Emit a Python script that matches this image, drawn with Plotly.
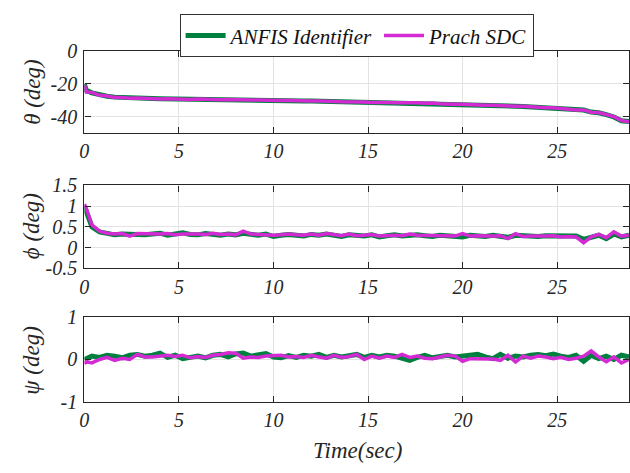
import plotly.graph_objects as go

# ---------------- data ----------------
t = [0, 0.1, 0.4, 0.8, 1.2, 1.6, 2.0, 2.4, 2.8, 3.2, 3.6, 4.0, 4.4, 4.8, 5.2, 5.6, 6.0, 6.4, 6.8, 7.2,
     7.6, 8.0, 8.4, 8.8, 9.2, 9.6, 10.0, 10.4, 10.8, 11.2, 11.6, 12.0, 12.4, 12.8, 13.2, 13.6, 14.0, 14.4,
     14.8, 15.2, 15.6, 16.0, 16.4, 16.8, 17.2, 17.6, 18.0, 18.4, 18.8, 19.2, 19.6, 20.0, 20.4, 20.8, 21.2,
     21.6, 22.0, 22.4, 22.8, 23.2, 23.6, 24.0, 24.4, 24.8, 25.2, 25.6, 26.0, 26.4, 26.8, 27.2, 27.6, 28.0,
     28.4, 28.8]

theta_anfis = [-20.0, -24.0, -25.5, -26.8, -27.6, -28.1, -28.4, -28.6, -28.8, -28.9, -29.0, -29.1, -29.2,
               -29.1, -29.3, -29.4, -29.4, -29.5, -29.5, -29.6, -29.6, -29.7, -29.8, -29.8, -29.9, -30.0,
               -30.1, -30.1, -30.2, -30.3, -30.4, -30.4, -30.5, -30.7, -30.8, -30.8, -30.9, -31.1, -31.2,
               -31.3, -31.3, -31.2, -31.5, -31.6, -31.6, -31.7, -31.8, -31.8, -32.0, -32.1, -32.3, -32.5,
               -32.6, -32.8, -33.0, -33.1, -33.3, -33.5, -33.6, -33.8, -34.0, -34.2, -34.5, -34.7, -35.0,
               -35.6, -35.8, -36.0, -37.2, -37.6, -38.8, -40.2, -42.5, -43.0]
theta_prach = [-20.5, -25.0, -25.2, -27.0, -27.4, -28.3, -28.3, -28.8, -28.7, -29.0, -28.8, -29.2, -29.1,
               -29.3, -29.2, -29.5, -29.3, -29.6, -29.4, -29.7, -29.5, -29.8, -29.7, -29.9, -29.8, -30.1,
               -30.0, -30.2, -30.1, -30.4, -30.3, -30.5, -30.4, -30.8, -30.7, -30.9, -30.8, -31.2, -31.1,
               -31.4, -31.2, -31.3, -31.6, -31.5, -31.7, -31.6, -31.9, -31.7, -32.1, -32.0, -32.4, -32.4,
               -32.7, -32.7, -33.1, -33.0, -33.4, -33.4, -33.7, -33.7, -34.1, -34.1, -34.6, -34.6, -35.1,
               -35.5, -35.9, -35.9, -37.3, -37.5, -38.9, -40.0, -42.4, -43.2]

phi_anfis = [1.00, 0.85, 0.50, 0.38, 0.33, 0.31, 0.33, 0.32, 0.34, 0.31, 0.33, 0.35, 0.30, 0.33, 0.36,
             0.32, 0.31, 0.34, 0.32, 0.30, 0.33, 0.31, 0.35, 0.32, 0.30, 0.33, 0.27, 0.30, 0.32, 0.30,
             0.28, 0.32, 0.30, 0.33, 0.30, 0.27, 0.31, 0.30, 0.28, 0.31, 0.26, 0.29, 0.31, 0.28, 0.30,
             0.31, 0.29, 0.27, 0.30, 0.28, 0.29, 0.26, 0.30, 0.29, 0.27, 0.30, 0.28, 0.25, 0.30, 0.29,
             0.28, 0.27, 0.29, 0.28, 0.27, 0.26, 0.28, 0.20, 0.24, 0.30, 0.22, 0.33, 0.26, 0.30]
phi_prach = [1.05, 0.95, 0.55, 0.40, 0.35, 0.33, 0.34, 0.28, 0.34, 0.33, 0.32, 0.33, 0.34, 0.31, 0.33,
             0.34, 0.33, 0.32, 0.35, 0.32, 0.33, 0.31, 0.40, 0.33, 0.32, 0.30, 0.30, 0.31, 0.33, 0.31,
             0.30, 0.33, 0.30, 0.34, 0.32, 0.29, 0.33, 0.29, 0.30, 0.32, 0.28, 0.30, 0.30, 0.29, 0.33,
             0.30, 0.30, 0.29, 0.28, 0.29, 0.28, 0.34, 0.28, 0.29, 0.28, 0.28, 0.29, 0.22, 0.34, 0.27,
             0.28, 0.27, 0.28, 0.29, 0.26, 0.27, 0.26, 0.12, 0.26, 0.32, 0.24, 0.38, 0.28, 0.30]

psi_anfis = [0.00, 0.02, 0.08, 0.05, 0.10, 0.08, 0.04, 0.10, 0.12, 0.08, 0.10, 0.15, 0.05, 0.10, 0.02,
             0.05, 0.08, 0.04, 0.10, 0.12, 0.06, 0.13, 0.15, 0.08, 0.10, 0.14, 0.06, 0.04, 0.09, 0.05,
             0.10, 0.08, 0.12, 0.05, 0.10, 0.06, 0.09, 0.12, 0.05, 0.10, 0.06, 0.10, 0.08, 0.03, -0.02,
             0.05, 0.10, 0.04, 0.08, 0.10, 0.06, 0.08, 0.10, 0.12, 0.06, 0.02, 0.12, 0.03, 0.08, 0.06,
             0.10, 0.12, 0.09, 0.13, 0.08, 0.05, 0.10, -0.04, 0.10, 0.02, 0.08, 0.00, 0.10, 0.06]
psi_prach = [-0.10, -0.05, -0.08, 0.00, 0.05, -0.02, 0.03, 0.00, 0.12, 0.06, 0.06, 0.08, 0.10, 0.07,
             0.10, 0.04, 0.07, 0.05, 0.10, 0.12, 0.16, 0.15, 0.03, 0.06, 0.05, 0.08, 0.08, 0.10, 0.06,
             0.07, 0.05, 0.10, 0.06, 0.03, 0.10, 0.05, 0.07, 0.12, 0.00, 0.08, 0.03, 0.08, 0.05, 0.12,
             0.05, 0.08, 0.03, 0.02, 0.06, 0.10, 0.08, -0.04, 0.02, 0.02, 0.03, 0.01, -0.02, 0.10, -0.06,
             0.08, 0.03, 0.08, 0.06, 0.02, 0.05, 0.00, 0.03, 0.08, 0.20, 0.06, -0.05, 0.06, -0.08, 0.00]

x_ticks = [0, 5, 10, 15, 20, 25]
theta_ticks = [0, -20, -40]
phi_ticks = [1.5, 1, 0.5, 0, -0.5]
psi_ticks = [1, 0, -1]

GREEN = "#00803e"
MAGENTA = "#d42ad4"
FONT = "Liberation Serif"

fig = go.Figure()

panels = [
    (theta_anfis, theta_prach, "y", True),
    (phi_anfis, phi_prach, "y2", False),
    (psi_anfis, psi_prach, "y3", False),
]
for i, (a, p, yref, show) in enumerate(panels):
    xref = "x" if i == 0 else f"x{i+1}"
    fig.add_trace(go.Scatter(x=t, y=a, mode="lines", name="ANFIS Identifier",
                             line=dict(color=GREEN, width=5), xaxis=xref, yaxis=yref,
                             showlegend=show))
    fig.add_trace(go.Scatter(x=t, y=p, mode="lines", name="Prach SDC",
                             line=dict(color=MAGENTA, width=3.5), xaxis=xref, yaxis=yref,
                             showlegend=show))

H = 473.0
def dom(top, bot):
    return [1 - bot / H, 1 - top / H]

tickfont = dict(family=FONT, size=20, style="italic", color="#262626")
xdom = [80 / 630, 629 / 630]

def xax(anchor):
    return dict(domain=xdom, range=[0, 28.8], anchor=anchor, tickvals=x_ticks,
                ticktext=[str(v) for v in x_ticks], tickfont=tickfont,
                showline=True, linecolor="#262626", linewidth=1.3, mirror="ticks",
                ticks="inside", ticklen=6, tickcolor="#262626",
                showgrid=True, gridcolor="#e3e3e3", gridwidth=1, zeroline=False)

def yax(dm, rng, tv, anchor):
    def lab(v):
        s = f"{v:g}"
        return s.replace("\u2212", "-")
    return dict(domain=dm, range=rng, anchor=anchor, tickvals=tv,
                ticktext=[lab(v) for v in tv], tickfont=tickfont,
                showline=True, linecolor="#262626", linewidth=1.3, mirror="ticks",
                ticks="inside", ticklen=6, tickcolor="#262626", ticklabelstandoff=2,
                showgrid=True, gridcolor="#e3e3e3", gridwidth=1, zeroline=False)

fig.update_layout(
    width=630, height=473,
    margin=dict(l=0, r=0, t=0, b=0),
    paper_bgcolor="white", plot_bgcolor="white",
    xaxis=xax("y"), xaxis2=xax("y2"), xaxis3=xax("y3"),
    yaxis=yax(dom(42, 128), [-50, 0], theta_ticks, "x"),
    yaxis2=yax(dom(183, 270), [-0.5, 1.5], phi_ticks, "x2"),
    yaxis3=yax(dom(321, 410), [-1, 1], psi_ticks, "x3"),
    legend=dict(orientation="h", x=176 / 630, y=1 - 26 / H, xanchor="left", yanchor="middle",
                bgcolor="white", bordercolor="#333333", borderwidth=1,
                font=dict(family=FONT, size=21, style="italic", color="#111111"),
                itemwidth=40, tracegroupgap=0),
    showlegend=True,
)

ylabels = [("\u03b8 (deg)", 85), ("\u03d5 (deg)", 226), ("\u03c8 (deg)", 366)]
for txt, yc in ylabels:
    fig.add_annotation(text=txt, x=27 / 630, y=1 - yc / H, xref="paper", yref="paper",
                       textangle=-90, showarrow=False, xanchor="center", yanchor="middle",
                       font=dict(family=FONT, size=23, style="italic", color="#262626"))

fig.add_annotation(text="Time(sec)", x=355 / 630, y=1 - 461 / H, xref="paper", yref="paper",
                   showarrow=False, xanchor="center", yanchor="middle",
                   font=dict(family=FONT, size=23, style="italic", color="#262626"))

fig.write_html("out.html")
